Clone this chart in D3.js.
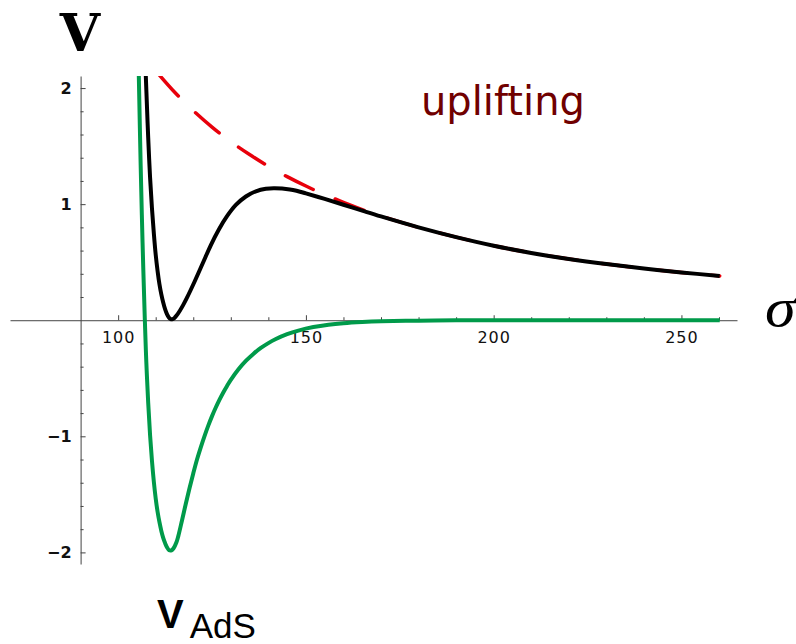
<!DOCTYPE html>
<html>
<head>
<meta charset="utf-8">
<script src="https://cdn.jsdelivr.net/npm/d3@7"></script>
<style>
  body { margin: 0; background: #fff; }
  svg { display: block; }
</style>
</head>
<body>
<svg width="796" height="644"></svg>
<script>
// values, [sigma, V]
const upliftV = [
  [110.5, 2.13], [115, 1.966], [120, 1.806], [125, 1.664], [130, 1.538],
  [135, 1.427], [140, 1.327], [145, 1.237], [150, 1.156], [155, 1.082],
  [160, 1.016], [165, 0.952], [170, 0.897], [180, 0.800], [190, 0.716],
  [200, 0.642], [210, 0.580], [220, 0.528], [230, 0.484], [240, 0.446],
  [250, 0.412], [260.2, 0.382]
]

const totalV = [
  [107.3, 2.16], [107.7, 1.82], [108.0, 1.575], [108.5, 1.23], [109.0, 0.965],
  [109.5, 0.75], [110.0, 0.565], [110.5, 0.425], [111.0, 0.31], [111.5, 0.222],
  [112.0, 0.152], [112.5, 0.095], [113.0, 0.052], [113.5, 0.024], [114.0, 0.010],
  [114.5, 0.010], [115.0, 0.020], [115.5, 0.038], [116.43, 0.082], [117.3, 0.130],
  [118.3, 0.192], [120.43, 0.338], [122.56, 0.493], [124.69, 0.648], [126.82, 0.782],
  [128.95, 0.894], [131.35, 0.993], [134.01, 1.066], [136.68, 1.111], [139.34, 1.133],
  [141.73, 1.137], [145.72, 1.127], [147.5, 1.116], [150, 1.093], [155, 1.045],
  [160, 0.995], [165, 0.944], [170, 0.894], [180, 0.800], [190, 0.716],
  [200, 0.642], [210, 0.580], [220, 0.528], [230, 0.484], [240, 0.446],
  [250, 0.412], [260.2, 0.382]
]

const adsV = [
  [105.5, 2.11], [106.0, 1.33], [106.5, 0.67], [107.11, 0.0], [107.5, -0.36],
  [108.0, -0.71], [108.5, -0.99], [109.0, -1.21], [109.5, -1.39], [110.0, -1.535],
  [110.5, -1.65], [111.0, -1.74], [111.5, -1.815], [112.0, -1.875], [112.5, -1.92],
  [113.0, -1.955], [113.6, -1.982], [114.2, -1.982], [114.8, -1.962], [115.5, -1.915],
  [116.0, -1.862], [117.0, -1.725], [118.0, -1.583], [119.0, -1.448], [120.0, -1.32],
  [121.0, -1.20], [122.0, -1.095], [123.0, -0.998], [124.0, -0.908], [125.0, -0.826],
  [126.0, -0.752], [127.0, -0.684], [128.0, -0.622], [129.0, -0.566], [130.0, -0.514],
  [132.0, -0.425], [134.0, -0.351], [136.0, -0.290], [138.0, -0.239], [140.0, -0.197],
  [142.0, -0.162], [145.0, -0.120], [148.0, -0.089], [152.0, -0.059], [156.0, -0.039],
  [160.0, -0.026], [165.0, -0.016], [170.0, -0.0095], [180.0, -0.0035], [190.0, -0.0012],
  [200.0, -0.0004], [260.2, 0.0]
]

const xMajor = [100, 150, 200, 250]
const xTickLabels = ["100", "150", "200", "250"]
const xMinor = [110, 120, 130, 140, 160, 170, 180, 190, 210, 220, 230, 240, 260]
const yMajor = [-2, -1, 1, 2]
const yTickLabels = ["\u22122", "\u22121", "1", "2"]
const yMinor = [-1.8, -1.6, -1.4, -1.2, -0.8, -0.6, -0.4, -0.2, 0.2, 0.4, 0.6, 0.8, 1.2, 1.4, 1.6, 1.8]

const svg = d3.select("svg")

const x = d3.scaleLinear().domain([71.2, 264.8]).range([10, 737])
const y = d3.scaleLinear().domain([-2.1, 2.104]).range([564, 76])

// axes cross at sigma = 90, V = 0
const axisColor = "#444"

const xAxisG = svg.append("g").attr("transform", `translate(0,${y(0)})`)
xAxisG.call(d3.axisBottom(x).tickValues(xMajor).tickSize(-5).tickSizeOuter(0).tickPadding(11)
  .tickFormat((d, i) => xTickLabels[i]))
const xMinorG = svg.append("g").attr("transform", `translate(0,${y(0)})`)
xMinorG.call(d3.axisBottom(x).tickValues(xMinor).tickSize(-3).tickSizeOuter(0).tickFormat(""))
xMinorG.select(".domain").remove()

const yAxisG = svg.append("g").attr("transform", `translate(${x(90)},0)`)
yAxisG.call(d3.axisLeft(y).tickValues(yMajor).tickSize(-5).tickSizeOuter(0).tickPadding(9)
  .tickFormat((d, i) => yTickLabels[i]))
const yMinorG = svg.append("g").attr("transform", `translate(${x(90)},0)`)
yMinorG.call(d3.axisLeft(y).tickValues(yMinor).tickSize(-3).tickSizeOuter(0).tickFormat(""))
yMinorG.select(".domain").remove()

svg.selectAll(".domain, .tick line").attr("stroke", axisColor).attr("stroke-width", 1)
xAxisG.selectAll("text")
  .style("font-family", "DejaVu Sans").style("font-size", "16px")
  .style("letter-spacing", "1px").attr("fill", "#111")
yAxisG.selectAll("text")
  .style("font-family", "DejaVu Sans").style("font-size", "16px")
  .style("font-weight", "bold").attr("fill", "#111")

svg.append("clipPath").attr("id", "plot")
  .append("rect").attr("x", 0).attr("y", 76).attr("width", 796).attr("height", 520)

const line = d3.line()
  .x(d => x(d[0]))
  .y(d => y(d[1]))
  .curve(d3.curveCatmullRom.alpha(0.5))

const curves = svg.append("g").attr("clip-path", "url(#plot)")

curves.append("path")
  .attr("d", line(upliftV))
  .attr("fill", "none")
  .attr("stroke", "#e8000b")
  .attr("stroke-width", 3.5)
  .attr("stroke-linecap", "round")
  .attr("stroke-dasharray", "31,24")

curves.append("path")
  .attr("d", line(totalV))
  .attr("fill", "none")
  .attr("stroke", "#000")
  .attr("stroke-width", 4)

curves.append("path")
  .attr("d", line(adsV))
  .attr("fill", "none")
  .attr("stroke", "#009a4a")
  .attr("stroke-width", 4)

// labels
svg.append("text")
  .attr("x", 80).attr("y", 51)
  .attr("text-anchor", "middle")
  .style("font-family", "DejaVu Serif")
  .style("font-weight", "bold")
  .style("font-size", "52px")
  .text("V")

svg.append("text")
  .attr("transform", "translate(765,326) scale(1.15,1)")
  .style("font-family", "Liberation Serif")
  .style("font-style", "italic")
  .style("font-size", "54px")
  .text("\u03c3")

svg.append("text")
  .attr("x", 421).attr("y", 115)
  .style("font-family", "DejaVu Sans")
  .style("font-size", "40px")
  .attr("fill", "#700000")
  .text("uplifting")

const vads = svg.append("text")
  .attr("x", 157).attr("y", 628)
  .style("font-family", "Liberation Sans")
  .attr("fill", "#000")
vads.append("tspan").style("font-weight", "bold").style("font-size", "40px").text("V")
vads.append("tspan").attr("dx", 6).attr("dy", 10).style("font-size", "35px").text("AdS")
</script>
</body>
</html>
